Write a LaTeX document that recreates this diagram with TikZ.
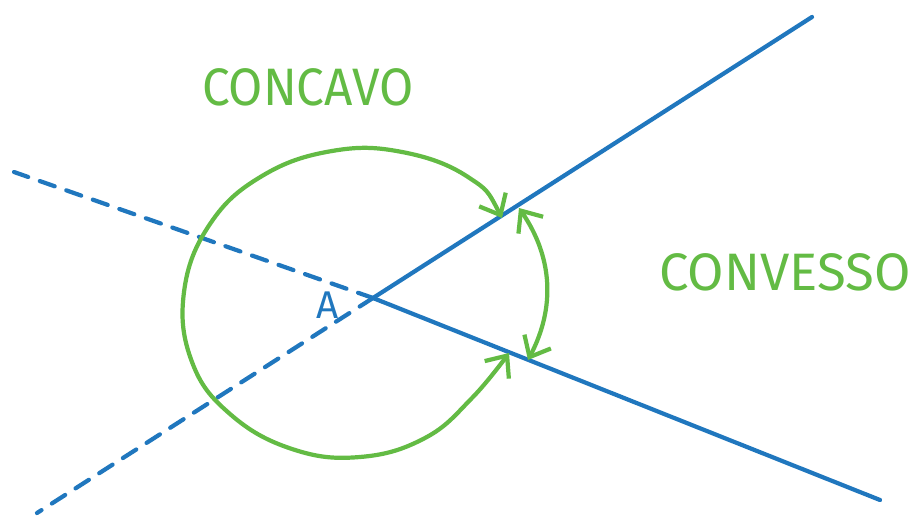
\documentclass[tikz,border=0pt]{standalone}
\usepackage{fontspec}
\setsansfont{Fira Sans}
\usetikzlibrary{arrows.meta}
\definecolor{cRay}{HTML}{2077BE}
\definecolor{cAngle}{HTML}{63BB44}
\tikzset{
  ray/.style={line width=2.4pt, color=cRay, line cap=round, line join=round},
  rayext/.style={ray, dash pattern=on 9pt off 7pt},
  anglearc/.style={line width=2.4pt, color=cAngle, line cap=round, line join=round,
    {Straight Barb[length=10pt, width=17pt, line width=2.4pt]}-{Straight Barb[length=10pt, width=17pt, line width=2.4pt]}},
  anglelabel/.style={font=\sffamily\fontsize{30}{30}\selectfont, text=cAngle},
}

\begin{document}
\begin{tikzpicture}[x=0.02cm, y=-0.02cm]
\useasboundingbox (0,0) rectangle (918,516);

% vertex and ray ends
\coordinate (vtx) at (373,298);
\coordinate (rayUp) at (812,17);
\coordinate (rayDown) at (880,500);
\coordinate (extUp) at (14,172);
\coordinate (extDown) at (37,513);

% where the arcs meet the rays
\coordinate (ccTop) at (502,218);
\coordinate (ccBot) at (509,353);
\coordinate (cvTop) at (519,208);
\coordinate (cvBot) at (528,360);

% rays
\draw[ray] (vtx) -- (rayUp);
\draw[ray] (vtx) -- (rayDown);
\draw[rayext] (vtx) -- (extUp);
\draw[rayext] (vtx) -- (extDown);

% concave angle
\draw[anglearc] plot[smooth, tension=0.7] coordinates {(ccTop) (468,177) (402,152) (332,151)
  (262,176) (210,224) (184,292) (192,362) (230,414) (292,449) (360,457) (425,438) (472,398)
  (ccBot)};

% convex angle
\draw[anglearc] (cvTop) to[bend left=31] (cvBot);

% labels
\node[anglelabel, xscale=0.94] (concavo) at (308,87) {CONCAVO};
\node[anglelabel] (convesso) at (785,272) {CONVESSO};
\node[font=\sffamily\fontsize{22}{22}\selectfont, text=cRay] (lblA) at (328,305) {A};

\end{tikzpicture}
\end{document}
